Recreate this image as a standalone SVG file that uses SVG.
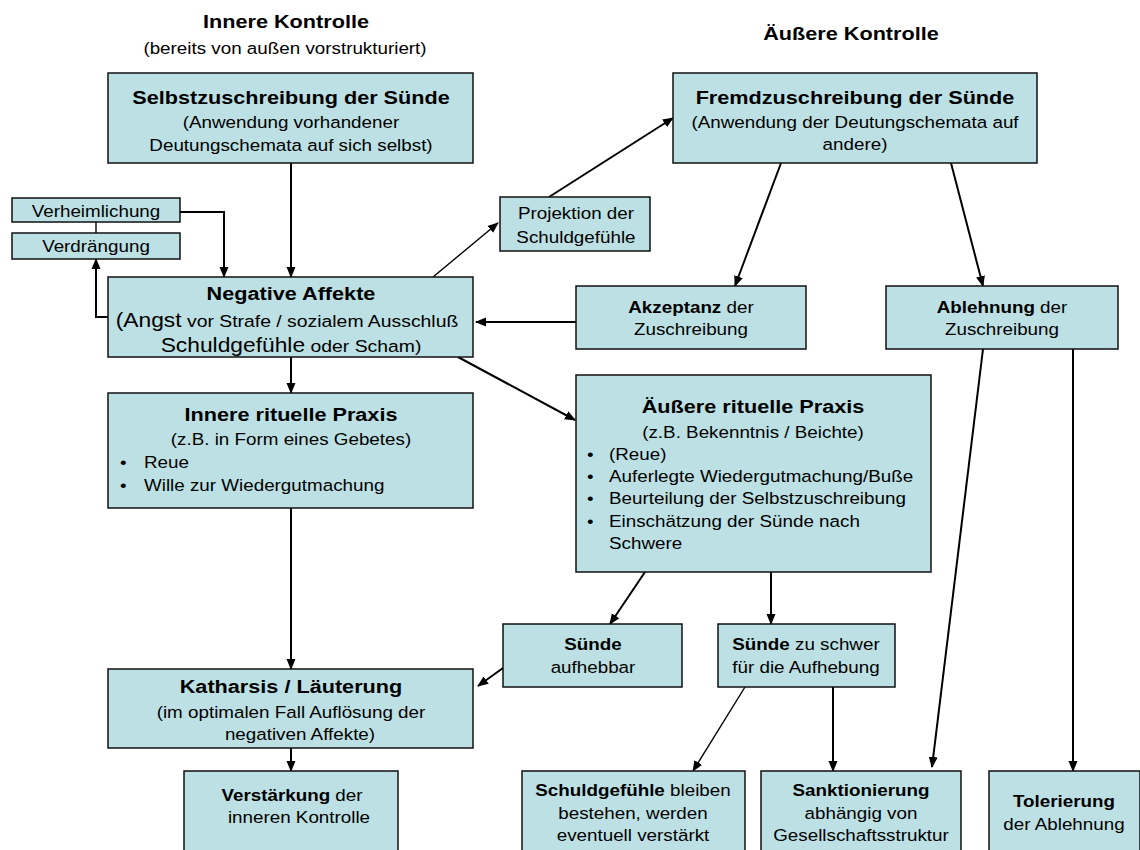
<svg xmlns="http://www.w3.org/2000/svg" width="1140" height="850" viewBox="0 0 1140 850">
<defs>
<marker id="ah" markerWidth="11" markerHeight="10" refX="10" refY="5" orient="auto" markerUnits="userSpaceOnUse">
<path d="M0,0.5 L11,5 L0,9.5 z" fill="#000"/>
</marker>
<style>
.box{fill:#bce0e3;stroke:#111;stroke-width:1.5}
text{font-family:"Liberation Sans",Arial,sans-serif;fill:#000;transform-box:fill-box;transform-origin:center;transform:scaleX(1.14)}
.t{font-size:19px;font-weight:bold;text-anchor:middle}
.s{font-size:16.5px;text-anchor:middle}
.l{font-size:16.5px;transform-origin:left}
.b{font-weight:bold}
.c{fill:none;stroke:#000;stroke-width:2}
.thin{stroke-width:1.4}
</style>
</defs>
<rect width="1140" height="850" fill="#fff"/>
<text class="t" x="286" y="28">Innere Kontrolle</text>
<text class="s" x="285" y="54">(bereits von außen vorstrukturiert)</text>
<text class="t" x="851" y="40">Äußere Kontrolle</text>

<g id="connectors">
<path class="c" d="M291,163 V277" marker-end="url(#ah)"/>
<path class="c" d="M180,212 H224 V277" marker-end="url(#ah)"/>
<path class="c" d="M108,317 H96 V259" marker-end="url(#ah)"/>
<path class="c thin" d="M96,222 V233"/>
<path class="c thin" d="M433,277 L498,223" marker-end="url(#ah)"/>
<path class="c" d="M549,197 L673,118" marker-end="url(#ah)"/>
<path class="c" d="M781,163 L735,286" marker-end="url(#ah)"/>
<path class="c" d="M951,163 L983,286" marker-end="url(#ah)"/>
<path class="c" d="M576,322 H476" marker-end="url(#ah)"/>
<path class="c" d="M291,357 V393" marker-end="url(#ah)"/>
<path class="c" d="M458,357 L575,420" marker-end="url(#ah)"/>
<path class="c" d="M291,508 V669" marker-end="url(#ah)"/>
<path class="c" d="M645,572 L610,624" marker-end="url(#ah)"/>
<path class="c" d="M771,572 V624" marker-end="url(#ah)"/>
<path class="c" d="M503,668 L478,686" marker-end="url(#ah)"/>
<path class="c" d="M291,748 V771" marker-end="url(#ah)"/>
<path class="c thin" d="M745,687 L693,771" marker-end="url(#ah)"/>
<path class="c" d="M833,687 V771" marker-end="url(#ah)"/>
<path class="c" d="M983,349 L932,767" marker-end="url(#ah)"/>
<path class="c" d="M1073,349 V771" marker-end="url(#ah)"/>
</g>

<g id="selbst">
<rect class="box" x="108" y="73" width="365" height="90"/>
<text class="t" x="291" y="104">Selbstzuschreibung der Sünde</text>
<text class="s" x="291" y="128">(Anwendung vorhandener</text>
<text class="s" x="291" y="151">Deutungschemata auf sich selbst)</text>
</g>
<g id="fremd">
<rect class="box" x="673" y="73" width="364" height="90"/>
<text class="t" x="855" y="104">Fremdzuschreibung der Sünde</text>
<text class="s" x="855" y="128">(Anwendung der Deutungschemata auf</text>
<text class="s" x="855" y="150">andere)</text>
</g>
<g id="verheimlichung">
<rect class="box" x="12" y="198" width="168" height="24"/>
<text class="s" x="96" y="217">Verheimlichung</text>
</g>
<g id="verdraengung">
<rect class="box" x="12" y="233" width="168" height="26"/>
<text class="s" x="96" y="252">Verdrängung</text>
</g>
<g id="projektion">
<rect class="box" x="500" y="197" width="150" height="54"/>
<text class="s" x="576" y="219">Projektion der</text>
<text class="s" x="576" y="243">Schuldgefühle</text>
</g>
<g id="negativ">
<rect class="box" x="108" y="277" width="365" height="80"/>
<text class="t" x="291" y="300">Negative Affekte</text>
<text class="s" x="287" y="327" style="font-size:17px"><tspan style="font-size:20px">(Angst</tspan> vor Strafe / sozialem Ausschluß</text>
<text class="s" x="291" y="352" style="font-size:17px"><tspan style="font-size:20px">Schuldgefühle</tspan> oder Scham)</text>
</g>
<g id="akzeptanz">
<rect class="box" x="576" y="286" width="230" height="63"/>
<text class="s" x="691" y="313"><tspan class="b">Akzeptanz</tspan> der</text>
<text class="s" x="691" y="335">Zuschreibung</text>
</g>
<g id="ablehnung">
<rect class="box" x="886" y="286" width="232" height="63"/>
<text class="s" x="1002" y="313"><tspan class="b">Ablehnung</tspan> der</text>
<text class="s" x="1002" y="335">Zuschreibung</text>
</g>
<g id="innere">
<rect class="box" x="108" y="393" width="365" height="115"/>
<text class="t" x="291" y="421">Innere rituelle Praxis</text>
<text class="s" x="291" y="445">(z.B. in Form eines Gebetes)</text>
<text class="l" x="120" y="468">•</text><text class="l" x="144" y="468">Reue</text>
<text class="l" x="120" y="491">•</text><text class="l" x="144" y="491">Wille zur Wiedergutmachung</text>
</g>
<g id="aeussere">
<rect class="box" x="576" y="375" width="355" height="197"/>
<text class="t" x="753" y="413">Äußere rituelle Praxis</text>
<text class="s" x="753" y="438">(z.B. Bekenntnis / Beichte)</text>
<text class="l" x="587" y="460">•</text><text class="l" x="609" y="460">(Reue)</text>
<text class="l" x="587" y="482">•</text><text class="l" x="609" y="482">Auferlegte Wiedergutmachung/Buße</text>
<text class="l" x="587" y="504">•</text><text class="l" x="609" y="504">Beurteilung der Selbstzuschreibung</text>
<text class="l" x="587" y="527">•</text><text class="l" x="609" y="527">Einschätzung der Sünde nach</text>
<text class="l" x="609" y="549">Schwere</text>
</g>
<g id="aufhebbar">
<rect class="box" x="503" y="624" width="179" height="63"/>
<text class="s b" x="593" y="650">Sünde</text>
<text class="s" x="593" y="673">aufhebbar</text>
</g>
<g id="zuschwer">
<rect class="box" x="718" y="624" width="177" height="63"/>
<text class="s" x="806" y="650"><tspan class="b">Sünde</tspan> zu schwer</text>
<text class="s" x="806" y="673">für die Aufhebung</text>
</g>
<g id="katharsis">
<rect class="box" x="108" y="669" width="365" height="79"/>
<text class="t" x="291" y="693">Katharsis / Läuterung</text>
<text class="s" x="291" y="718">(im optimalen Fall Auflösung der</text>
<text class="s" x="300" y="740">negativen Affekte)</text>
</g>
<g id="verstaerkung">
<rect class="box" x="184" y="771" width="214" height="90"/>
<text class="s" x="292" y="801"><tspan class="b">Verstärkung</tspan> der</text>
<text class="s" x="299" y="823">inneren Kontrolle</text>
</g>
<g id="schuld">
<rect class="box" x="522" y="771" width="223" height="90"/>
<text class="s" x="633" y="796"><tspan class="b">Schuldgefühle</tspan> bleiben</text>
<text class="s" x="633" y="819">bestehen, werden</text>
<text class="s" x="633" y="841">eventuell verstärkt</text>
</g>
<g id="sanktion">
<rect class="box" x="761" y="771" width="200" height="90"/>
<text class="s b" x="861" y="796">Sanktionierung</text>
<text class="s" x="861" y="819">abhängig von</text>
<text class="s" x="861" y="841">Gesellschaftsstruktur</text>
</g>
<g id="toleranz">
<rect class="box" x="989" y="771" width="151" height="90"/>
<text class="s b" x="1064" y="807">Tolerierung</text>
<text class="s" x="1064" y="830">der Ablehnung</text>
</g>
</svg>
